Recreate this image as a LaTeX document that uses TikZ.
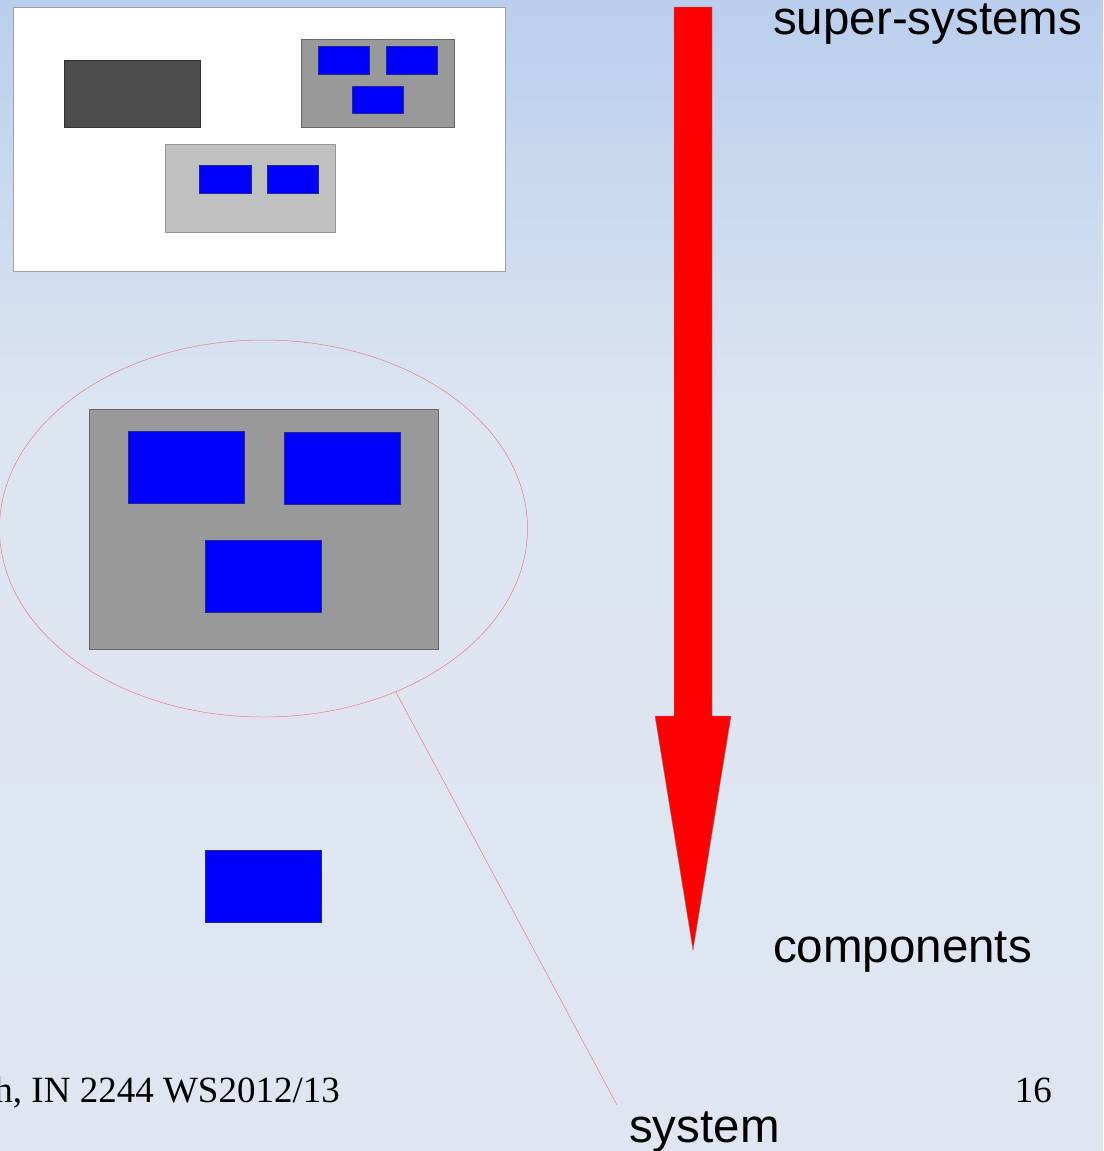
\documentclass[tikz,border=0pt]{standalone}
\usepackage{fontspec}
\setmainfont{Liberation Serif}
\newfontfamily\labelfont{Liberation Sans}
\usetikzlibrary{shapes.geometric}
\definecolor{bgtop}{RGB}{185,207,237}
\definecolor{bgmid}{RGB}{221,229,241}
\definecolor{bgbot}{RGB}{223,230,242}
\definecolor{darkbox}{RGB}{77,77,77}
\definecolor{darkedge}{RGB}{51,51,51}
\definecolor{midbox}{RGB}{153,153,153}
\definecolor{lightbox}{RGB}{192,192,192}
\definecolor{lightedge}{RGB}{150,150,150}
\definecolor{paneledge}{RGB}{160,160,160}
\definecolor{edgegray}{RGB}{102,102,102}
\definecolor{pinkline}{RGB}{240,120,130}
\tikzset{
  box/.style={rectangle, inner sep=0pt, draw=edgegray, line width=0.8pt},
  bluebox/.style={box, fill=blue, draw=blue!60!black!70!gray},
  biglabel/.style={inner sep=0pt, anchor=base west, font=\labelfont\fontsize{47.5}{50}\selectfont},
  footlabel/.style={inner sep=0pt, anchor=base east, font=\fontsize{37}{40}\selectfont},
}
\begin{document}
\begin{tikzpicture}[x=1pt,y=-1pt]
\useasboundingbox (0,0) rectangle (1103,1151);
% background
\fill[bgbot] (0,0) rectangle (1103,1151);
\shade[top color=bgtop, bottom color=bgmid] (0,0) rectangle (1103,420);
\shade[top color=bgmid, bottom color=bgbot] (0,419) rectangle (1103,1151);

% top-left white panel
\node[box, fill=white, draw=paneledge, minimum width=492, minimum height=264] (panel) at (259,139) {};
\node[box, fill=darkbox, draw=darkedge, minimum width=136, minimum height=67] (dark) at (132,93.5) {};
\node[box, fill=midbox, minimum width=153, minimum height=88] (mid) at (377.5,83) {};
\node[bluebox, minimum width=51, minimum height=28] (m1) at (343.5,60) {};
\node[bluebox, minimum width=51, minimum height=28] (m2) at (411.5,60.5) {};
\node[bluebox, minimum width=51, minimum height=27] (m3) at (377.5,99.5) {};
\node[box, fill=lightbox, draw=lightedge, minimum width=170, minimum height=88] (light) at (250,188) {};
\node[bluebox, minimum width=52, minimum height=28] (l1) at (225,179) {};
\node[bluebox, minimum width=51, minimum height=28] (l2) at (292.5,179) {};

% system ellipse
\node[ellipse, draw=pinkline, line width=0.5pt, minimum width=528, minimum height=377, inner sep=0pt] (ell) at (263.5,528.5) {};
\node[box, fill=midbox, minimum width=349, minimum height=240] (sys) at (263.5,529) {};
\node[bluebox, minimum width=116, minimum height=72] (s1) at (186,467) {};
\node[bluebox, minimum width=116, minimum height=72] (s2) at (342,468) {};
\node[bluebox, minimum width=116, minimum height=72] (s3) at (263,576) {};

% lone component
\node[bluebox, minimum width=116, minimum height=72] (comp) at (263,886) {};

% callout line
\coordinate (sysend) at (617,1105);
\draw[pinkline, line width=0.5pt] (ell.-51.2) -- (sysend);

% big red arrow
\draw[fill=red, draw=gray, line width=0.4pt]
  (674,7) -- (712,7) -- (712,716) -- (731,716) -- (693,950) -- (655,716) -- (674,716) -- cycle;

% labels
\node[biglabel] (super) at (773,34) {super-systems};
\node[biglabel] (components) at (773,962) {components};
\node[biglabel] (system) at (629,1142) {system};
\node[footlabel] (footer) at (340,1102) {h, IN 2244 WS2012/13};
\node[footlabel] (page) at (1052,1102) {16};
\end{tikzpicture}
\end{document}
